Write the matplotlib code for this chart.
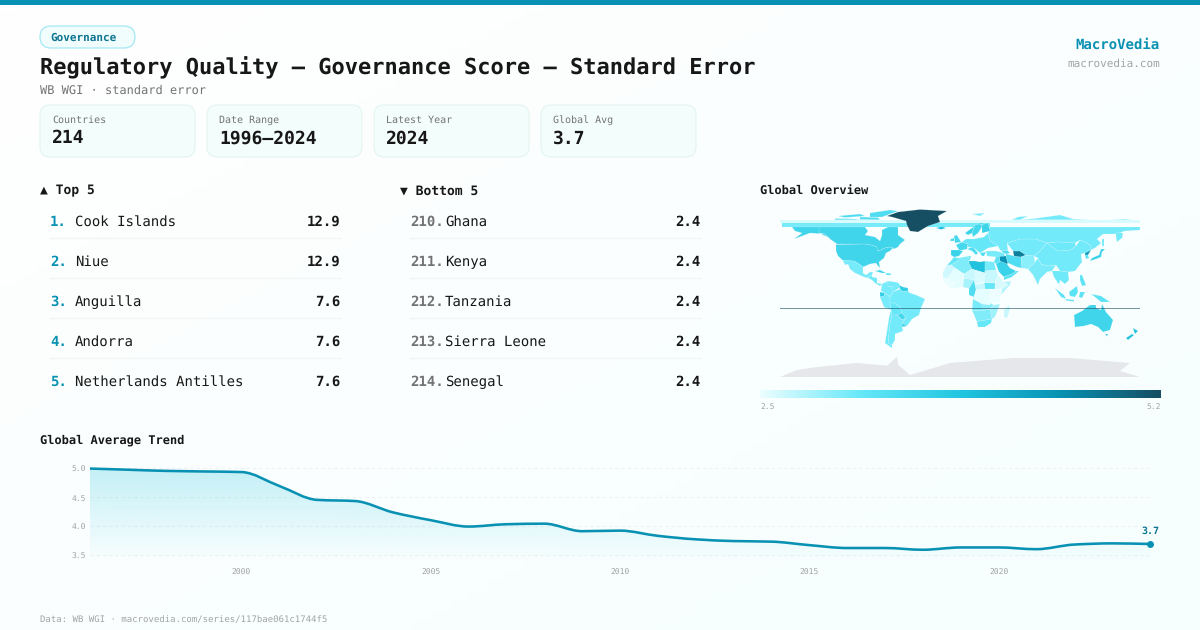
import numpy as np
import matplotlib
matplotlib.use("Agg")
import matplotlib.pyplot as plt
from matplotlib.colors import LinearSegmentedColormap, Normalize, to_rgb
from matplotlib.patches import FancyBboxPatch, PathPatch, Polygon
from matplotlib.path import Path
from matplotlib.transforms import ScaledTranslation

plt.rcParams['font.family'] = ['DejaVu Sans Mono', 'DejaVu Sans']
plt.rcParams['text.hinting'] = 'no_hinting'
plt.rcParams['text.hinting_factor'] = 1

# --- data ---
card_labels = ["Countries", "Date Range", "Latest Year", "Global Avg"]
card_values = ["214", "1996–2024", "2024", "3.7"]

top_ranks = ["1.", "2.", "3.", "4.", "5."]
top_names = ["Cook Islands", "Niue", "Anguilla", "Andorra", "Netherlands Antilles"]
top_values = [12.9, 12.9, 7.6, 7.6, 7.6]
bottom_ranks = ["210.", "211.", "212.", "213.", "214."]
bottom_names = ["Ghana", "Kenya", "Tanzania", "Sierra Leone", "Senegal"]
bottom_values = [2.4, 2.4, 2.4, 2.4, 2.4]

years = [1996, 1997, 1998, 1999, 2000, 2001, 2002, 2003, 2004, 2005,
         2006, 2007, 2008, 2009, 2010, 2011, 2012, 2013, 2014, 2015,
         2016, 2017, 2018, 2019, 2020, 2021, 2022, 2023, 2024]
global_avg = [4.99, 4.97, 4.95, 4.94, 4.93, 4.69, 4.45, 4.43, 4.235, 4.10,
              3.99, 4.03, 4.04, 3.91, 3.92, 3.83, 3.77, 3.74, 3.73, 3.67,
              3.62, 3.62, 3.59, 3.63, 3.63, 3.60, 3.68, 3.70, 3.69]
trend_yticks = [3.5, 4.0, 4.5, 5.0]
trend_xticks = [2000, 2005, 2010, 2015, 2020]

scale_min, scale_max = 2.5, 5.2

# rough country outlines, lon/lat
region_shapes = {
    "Canada": [(-141,66),(-95,66),(-92,62),(-95,58),(-85,56),(-80,52),(-78,58),(-78,63),(-72,66),(-62,66),(-62,58),(-55,53),(-60,49),(-62,46),(-66,44),(-67,45),(-70,46),(-75,45),(-79,43),(-83,42),(-83,46),(-89,48),(-95,49),(-123,49),(-130,54),(-135,59),(-141,60)],
    "Banks": [(-125,74.5),(-105,74),(-100,73.2),(-125,73.2)],
    "Devon": [(-100,76),(-82,75.5),(-80,73.2),(-100,73.5)],
    "Queen Elizabeth": [(-122,77),(-100,79),(-95,77),(-115,75.5)],
    "Ellesmere": [(-90,80),(-70,83),(-62,82),(-78,76),(-90,76)],
    "USA": [(-124,48.5),(-95,49),(-89,48),(-83,46),(-82.5,42),(-79,43),(-75,45),(-70,46),(-67,45),(-70,42),(-74,40),(-76,35),(-81,31),(-80,25),(-82,27),(-84,30),(-90,29),(-97,26),(-101,29),(-106,32),(-117,32.5),(-122,37),(-124,42)],
    "Alaska": [(-168,66),(-141,66),(-141,60),(-130,55),(-135,59),(-150,60),(-158,57),(-166,54),(-158,60),(-165,62)],
    "Mexico": [(-117,32.5),(-106,32),(-101,29),(-97,26),(-97,20),(-94,18),(-90,21),(-87,21),(-88,18),(-92,15),(-96,16),(-105,20),(-110,24),(-112,29),(-115,28)],
    "Central America": [(-92,15),(-88,18),(-88,16),(-83,15),(-83,10),(-78,9),(-80,7),(-85,10),(-88,13)],
    "Cuba": [(-85,22),(-80,23),(-74,20),(-78,20)],
    "Hispaniola": [(-74,20),(-69,19.5),(-69,18),(-74,18)],
    "Colombia": [(-78,9),(-72,12),(-72,7),(-67,6),(-67,1),(-70,-4),(-75,0),(-79,2)],
    "Venezuela": [(-72,12),(-62,10.5),(-60,8),(-61,5),(-67,1),(-67,6),(-72,7)],
    "Guyana": [(-61,8),(-57,6),(-52,5),(-52,2),(-58,1.5),(-60,4)],
    "Ecuador": [(-80,1),(-75,0),(-76,-3),(-80,-4)],
    "Peru": [(-80,-4),(-76,-3),(-75,0),(-70,-4),(-70,-10),(-69,-17),(-76,-14)],
    "Brazil": [(-70,-4),(-67,1),(-60,4),(-58,1.5),(-52,2),(-50,0),(-44,-2),(-35,-6),(-39,-15),(-41,-22),(-48,-26),(-53,-33),(-58,-30),(-54,-25),(-58,-20),(-60,-14),(-66,-10),(-70,-10)],
    "Bolivia": [(-70,-10),(-66,-10),(-60,-14),(-58,-20),(-63,-22),(-68,-22),(-69,-17)],
    "Paraguay": [(-63,-22),(-58,-20),(-54,-25),(-58,-27)],
    "Uruguay": [(-58,-30),(-53,-33),(-58,-34)],
    "Argentina": [(-68,-22),(-63,-22),(-58,-27),(-54,-25),(-58,-30),(-58,-34),(-57,-38),(-65,-41),(-65,-47),(-68,-52),(-72,-50),(-71,-40),(-70,-30)],
    "Chile": [(-69,-17),(-68,-22),(-70,-30),(-71,-40),(-72,-50),(-68,-52),(-68,-55),(-75,-50),(-73,-38),(-71,-25)],
    "Morocco": [(-6,36),(-2,35),(-2,32),(-9,28),(-13,28),(-10,31)],
    "Algeria": [(-2,35),(9,37),(9,30),(12,24),(4,19),(-5,25),(-9,28),(-2,32)],
    "Tunisia": [(9,37),(11,37),(10,33),(9,32),(9,30)],
    "Libya": [(9,32),(15,32),(20,31),(25,32),(25,20),(15,23),(12,24),(9,30)],
    "Egypt": [(25,32),(34,31),(36,23),(25,22),(25,20)],
    "Mauritania": [(-17,21),(-13,28),(-9,28),(-5,25),(-12,15),(-17,15)],
    "Mali": [(-12,15),(-5,25),(4,19),(4,15),(-5,10),(-11,12)],
    "West Coast": [(-17,15),(-12,15),(-11,12),(-5,10),(-8,4.5),(-13,8),(-17,12)],
    "Ghana Benin": [(-5,10),(4,15),(3,6),(1,6),(-8,4.5)],
    "Nigeria": [(3,6),(4,15),(14,13),(9,4.5)],
    "Niger": [(4,15),(4,19),(12,24),(15,23),(15,14),(14,13)],
    "Chad": [(15,23),(25,20),(24,10),(22,11),(15,8),(14,13),(15,14)],
    "Sudan": [(25,22),(36,23),(38,18),(35,10),(24,10),(25,20)],
    "South Sudan": [(24,10),(35,10),(35,4),(25,4)],
    "CAR": [(15,8),(24,10),(25,4),(16,3)],
    "Ethiopia": [(35,10),(38,18),(43,12),(48,8),(42,4),(35,4)],
    "Somalia": [(42,4),(48,8),(44,11),(51,12),(50,8),(41,-2)],
    "Cameroon Gabon": [(9,4.5),(14,13),(15,8),(16,3),(14,-4),(9,-2)],
    "DRC": [(16,3),(25,4),(31,3),(29,-4),(30,-12),(22,-11),(13,-6),(14,-4)],
    "East Africa": [(31,3),(35,4),(41,4),(41,-2),(39,-10),(30,-10),(29,-4)],
    "Angola": [(13,-6),(22,-11),(22,-18),(12,-17)],
    "Zambia": [(22,-11),(30,-12),(30,-10),(34,-12),(30,-16),(22,-18)],
    "Mozambique": [(34,-12),(40,-11),(35,-24),(32,-26),(30,-16)],
    "Namibia": [(12,-17),(22,-18),(30,-16),(32,-26),(20,-28),(17,-29)],
    "South Africa": [(17,-29),(20,-28),(32,-26),(31,-30),(25,-34),(18,-34)],
    "Madagascar": [(49,-12),(50,-16),(47,-25),(44,-24),(44,-17)],
    "Saudi Arabia": [(36,29),(40,32),(47,29),(50,25),(56,22),(52,19),(44,16),(39,21)],
    "Yemen Oman": [(44,16),(52,19),(56,22),(59,22),(52,16),(44,13)],
    "Iraq": [(39,37),(46,37),(48,30),(47,29),(40,32)],
    "Iran": [(46,39),(54,37),(61,36),(62,25),(57,26),(48,30),(46,37)],
    "Turkmenistan": [(53,42),(60,42),(66,38),(61,36),(54,37)],
    "Turkey": [(26,42),(36,42),(44,40),(45,37),(36,36),(27,37)],
    "Syria Jordan": [(36,36),(39,37),(40,32),(36,29),(34,31)],
    "Caucasus": [(40,43),(48,42),(50,40),(46,39),(44,40)],
    "Afghanistan Pakistan": [(61,36),(66,38),(74,37),(75,31),(68,24),(62,25)],
    "India": [(68,24),(75,31),(78,35),(81,29),(88,27),(96,28),(92,22),(87,21),(80,14),(78,8),(73,18)],
    "Kazakhstan": [(47,50),(60,54),(76,54),(87,50),(80,42),(74,37),(66,38),(60,42),(53,42),(50,46)],
    "Russia": [(30,66),(180,66),(180,63),(165,62),(155,59),(143,59),(137,54),(141,50),(135,45),(131,43),(131,47),(127,50),(120,53),(115,50),(98,51),(87,50),(76,54),(60,54),(47,50),(48,42),(40,43),(38,47),(30,52),(28,60)],
    "Siberia North": [(60,73.2),(75,74.5),(100,78),(113,74),(130,73.2)],
    "Chukotka": [(150,73.2),(165,74),(172,73.2)],
    "Novaya Zemlya": [(52,73.2),(58,76),(68,77),(60,73.2)],
    "Kamchatka": [(156,61),(163,60),(162,55),(157,51),(156,56)],
    "Sakhalin": [(142,54),(143.5,54),(143.5,47),(142,47)],
    "China": [(74,37),(80,42),(87,50),(98,42),(110,43),(116,47),(120,53),(127,50),(131,47),(131,43),(125,40),(121,39),(122,31),(115,22),(108,21),(100,22),(96,28),(88,27),(81,29),(78,35)],
    "Mongolia": [(87,50),(98,51),(115,50),(116,47),(110,43),(98,42)],
    "North Korea": [(125,40),(131,43),(128,38),(125,38)],
    "South Korea": [(125,38),(128,38),(129,35),(126,34)],
    "Japan": [(130,32),(136,34),(141,36),(142,41),(145,44),(141,44),(139,38),(132,35)],
    "SE Asia": [(92,22),(100,22),(108,21),(109,13),(105,9),(100,13),(99,8),(103,2),(98,10),(94,16)],
    "Philippines": [(120,18),(122,18),(126,8),(122,7),(120,13)],
    "Sumatra": [(95,5),(104,-2),(106,-6),(101,-4)],
    "Borneo": [(109,1),(117,7),(118,1),(115,-4),(110,-3)],
    "Java": [(106,-6),(114,-7),(114,-8.5),(106,-7.5)],
    "Sulawesi": [(120,1),(125,1),(122,-5),(119,-4)],
    "New Guinea": [(131,-1),(141,-3),(150,-9),(141,-9),(135,-4)],
    "Australia": [(114,-22),(122,-18),(130,-12),(136,-12),(136,-15),(141,-17),(142,-11),(146,-19),(153,-27),(150,-37),(143,-39),(138,-34),(131,-31),(124,-33),(115,-34)],
    "Tasmania": [(145,-41),(148,-41),(147,-43.5)],
    "NZ North": [(173,-35),(178,-38),(175,-41),(174,-38)],
    "NZ South": [(172,-41),(174,-42),(168,-47),(166,-45)],
    "UK": [(-5,50),(1,51),(-2,56),(-3,58),(-6,57)],
    "Ireland": [(-10,52),(-6,52),(-6,55),(-9,54)],
    "Iceland": [(-24,65),(-18,66.5),(-14,65),(-19,63.5)],
    "France": [(-4,48),(2,51),(8,49),(7,44),(3,43),(-1,43)],
    "Spain": [(-9,43),(-1,43),(3,42),(-1,37),(-6,36),(-9,38)],
    "Central Europe": [(2,51),(6,54),(14,54),(24,56),(28,60),(30,52),(38,47),(28,45),(20,40),(14,45),(8,46),(8,49)],
    "Greece": [(20,40),(26,41),(24,37),(22,37)],
    "Italy": [(7,44),(13,46),(18,40),(16,38),(12,42)],
    "Norway": [(5,60),(8,58),(12,60),(15,68),(28,70),(20,70),(12,65)],
    "Sweden": [(12,60),(13,56),(18,60),(22,66),(20,69),(15,68)],
    "Finland": [(22,60),(30,62),(28,70),(22,68),(22,66)],
    "Svalbard": [(12,79),(25,80),(20,77)],
    "Greenland": [(-73,77),(-62,81),(-40,83.5),(-13,82),(-22,77),(-20,71),(-32,67),(-42,61),(-50,62),(-53,68),(-54,72),(-68,76)],
}
region_values = {
    "Canada": 3.55, "Banks": 3.4, "Devon": 3.4, "Queen Elizabeth": 3.4, "Ellesmere": 3.4, "USA": 3.55, "Alaska": 3.55,
    "Mexico": 3.1, "Central America": 3.15, "Cuba": 3.6, "Hispaniola": 3.3,
    "Colombia": 3.1, "Venezuela": 3.1, "Guyana": 3.7, "Ecuador": 3.7, "Peru": 3.1,
    "Brazil": 3.12, "Bolivia": 3.2, "Paraguay": 3.5, "Uruguay": 3.6, "Argentina": 3.12, "Chile": 3.15,
    "Morocco": 3.2, "Algeria": 3.05, "Tunisia": 3.2, "Libya": 3.9, "Egypt": 3.1,
    "Mauritania": 2.65, "Mali": 2.55, "West Coast": 2.5, "Ghana Benin": 2.55, "Nigeria": 2.85,
    "Niger": 2.7, "Chad": 2.6, "Sudan": 2.7, "South Sudan": 3.2, "CAR": 2.7, "Ethiopia": 2.6,
    "Somalia": 2.8, "Cameroon Gabon": 3.4, "DRC": 2.55, "East Africa": 2.5,
    "Angola": 3.1, "Zambia": 3.0, "Mozambique": 2.9, "Namibia": 3.05, "South Africa": 3.2, "Madagascar": 2.7,
    "Saudi Arabia": 3.6, "Yemen Oman": 3.3, "Iraq": 4.5, "Iran": 3.4, "Turkmenistan": 4.7, "Caucasus": 3.4,
    "Turkey": 3.1, "Syria Jordan": 3.3, "Afghanistan Pakistan": 3.0, "India": 3.08, "Kazakhstan": 3.12,
    "Russia": 3.12, "Siberia North": 3.12, "Chukotka": 3.12, "Novaya Zemlya": 3.12, "Kamchatka": 3.12, "Sakhalin": 3.12,
    "China": 3.12, "Mongolia": 3.15, "North Korea": 4.4, "South Korea": 3.3, "Japan": 3.6,
    "SE Asia": 3.15, "Philippines": 3.3, "Sumatra": 3.3, "Borneo": 3.3, "Java": 3.3, "Sulawesi": 3.3,
    "New Guinea": 3.3, "Australia": 3.55, "Tasmania": 3.55, "NZ North": 3.9, "NZ South": 3.9,
    "UK": 3.5, "Ireland": 3.5, "Iceland": 3.9, "France": 3.5, "Spain": 3.6, "Central Europe": 3.2, "Greece": 3.4,
    "Italy": 3.4, "Norway": 3.6, "Sweden": 3.5, "Finland": 3.6, "Svalbard": 3.1, "Greenland": 5.2,
}
antarctica = [(-180,-84),(-163,-77),(-143,-74),(-103,-70),(-73,-72.7),(-63,-63.7),(-61.7,-72),(-50,-82),(-23,-74),(-10,-70),(53,-65),(110,-65),(170,-70),(160,-78),(180,-84)]
# artefact bands of the source map: lat and lon ranges and their value
band_lats = [(69.9, 73.2), (66.2, 69.9)]
band_lons = [(-180, 180), (-178, 30)]
band_values = [2.6, 3.1]
seam_lat = -15

# --- helpers ---
TEAL = "#0891b2"
DARK = "#171717"
GRAY = "#737373"
cmap = LinearSegmentedColormap.from_list("cy", ["#ecfeff", "#67e8f9", "#22c6e0", TEAL, "#164e63"])
norm = Normalize(scale_min, scale_max)

fig = plt.figure(figsize=(12, 6.3), dpi=100)
bg = fig.add_axes([0, 0, 1, 1])
bg.axis("off")
grad = np.linspace(0, 1, 64)[:, None] * np.ones((64, 64)) * 0.5 + np.linspace(0, 1, 64)[None, :] * 0.5
bg_cmap = LinearSegmentedColormap.from_list("bg", ["#ffffff", "#f6fefe"])
bg.imshow(grad, extent=(0, 1200, 630, 0), cmap=bg_cmap, aspect="auto", zorder=0)
bg.set_xlim(0, 1200)
bg.set_ylim(630, 0)


def put(x, y, s, px, color=DARK, weight="normal", ha="left"):
    # y is the middle of the line, place by baseline so rows do not jitter
    return bg.text(x, y + px * 0.36, s, fontsize=px * 0.72, color=color, fontweight=weight, ha=ha,
                   va="baseline", zorder=5)


def rbox(x0, y0, x1, y1, r, face, edge):
    p = FancyBboxPatch((x0 + r, y0 + r), x1 - x0 - 2 * r, y1 - y0 - 2 * r,
                       boxstyle=f"round,pad={r},rounding_size={r}",
                       fc=face, ec=edge, lw=0.9, zorder=2)
    bg.add_patch(p)


def px_axes(x0, y0, x1, y1):
    ax = fig.add_axes([x0 / 1200, 1 - y1 / 630, (x1 - x0) / 1200, (y1 - y0) / 630])
    ax.patch.set_alpha(0)
    return ax


# --- header ---
bg.fill_between([0, 1200], 0, 5, color=TEAL, lw=0, zorder=3)
rbox(40, 26, 135, 48, 11, "#f0fdfc", "#a5e8f5")
put(50, 37, "Governance", 11, "#0e7490", "bold")
put(40, 66.5, "Regulatory Quality — Governance Score — Standard Error", 22, DARK, "bold")
put(40, 90, "WB WGI · standard error", 12, GRAY)
put(1160, 43.5, "MacroVedia", 14, TEAL, "bold", ha="right")
put(1160, 62.5, "macrovedia.com", 11, "#a3a3a3", ha="right")

for i, (lab, val) in enumerate(zip(card_labels, card_values)):
    x0 = 40 + i * 167
    rbox(x0, 105, x0 + 155, 157, 10, "#f3fdfb", "#e5f5f3")
    put(x0 + 12, 119.5, lab, 10, GRAY)
    put(x0 + 12, 137, val, 18, DARK, "bold")

# --- rankings ---
put(40, 189.5, "▲ Top 5", 13, DARK, "bold")
put(400, 189.5, "▼ Bottom 5", 13, DARK, "bold")
for i in range(5):
    y = 221 + i * 40
    put(50, y, top_ranks[i], 14, TEAL, "bold")
    put(75, y, top_names[i], 14)
    put(340, y, f"{top_values[i]:.1f}", 14, DARK, "bold", ha="right")
    put(410, y, bottom_ranks[i], 14, GRAY, "bold")
    put(445, y, bottom_names[i], 14)
    put(700, y, f"{bottom_values[i]:.1f}", 14, DARK, "bold", ha="right")
    if i < 4:
        bg.plot([50, 340], [y + 17, y + 17], color="#f2f4f4", lw=1, zorder=2)
        bg.plot([410, 700], [y + 17, y + 17], color="#f2f4f4", lw=1, zorder=2)

# --- map ---
put(760, 189.5, "Global Overview", 12, DARK, "bold")
mp = px_axes(780, 208, 1140, 378)
mp.set_xlim(-180, 180)
mp.set_ylim(-85, 85)
mp.axis("off")
for (lo, hi), lons, v in zip(band_lats, band_lons, band_values):
    mp.fill_between(lons, lo, hi, color=cmap(norm(v)), lw=0, zorder=1)
for name, pts in region_shapes.items():
    mp.add_patch(Polygon(pts, closed=True, fc=cmap(norm(region_values[name])), ec=(1, 1, 1, 0.35),
                         lw=0.3, zorder=3 if name == "Greenland" else 2))
mp.add_patch(Polygon(antarctica, closed=True, fc="#e5e7eb", ec="none", zorder=2))
mp.plot([-180, 180], [seam_lat, seam_lat], color="#164e63", lw=0.7, alpha=0.6, zorder=4)

cb = px_axes(760, 390, 1161, 398)
cb.imshow(np.linspace(0, 1, 256)[None, :], cmap=cmap, aspect="auto")
cb.axis("off")
put(760, 407.5, f"{scale_min}", 8, "#a3a3a3")
put(1161, 407.5, f"{scale_max}", 8, "#a3a3a3", ha="right")

# --- trend ---
put(40, 439.5, "Global Average Trend", 12, DARK, "bold")
tr = px_axes(90, 462, 1150, 562)
ybase = 3.379

# monotone curve through the yearly values
xs = np.array(years, float)
ys = np.array(global_avg, float)
secants = np.diff(ys) / np.diff(xs)
slopes = np.zeros_like(ys)
slopes[0], slopes[-1] = secants[0], secants[-1]
for j in range(1, len(ys) - 1):
    a, b = secants[j - 1], secants[j]
    slopes[j] = 0 if a * b <= 0 else 2 * a * b / (a + b)
verts = [(xs[0], ys[0])]
codes = [Path.MOVETO]
for j in range(len(xs) - 1):
    d = (xs[j + 1] - xs[j]) / 3
    verts += [(xs[j] + d, ys[j] + slopes[j] * d), (xs[j + 1] - d, ys[j + 1] - slopes[j + 1] * d), (xs[j + 1], ys[j + 1])]
    codes += [Path.CURVE4] * 3
line_path = Path(verts, codes)
area_path = Path(verts + [(xs[-1], ybase), (xs[0], ybase), (xs[0], ys[0])],
                 codes + [Path.LINETO, Path.LINETO, Path.CLOSEPOLY])

rgba = np.ones((128, 2, 4))
rgba[..., :3] = to_rgb("#22c6e0")
rgba[..., 3] = np.linspace(0.26, 0.0, 128)[:, None]
im = tr.imshow(rgba, extent=(xs[0], xs[-1], ybase, 5.0), origin="upper", aspect="auto", zorder=1)
im.set_clip_path(PathPatch(area_path, transform=tr.transData))
tr.set_xlim(years[0], years[-1])
tr.set_ylim(ybase, 5.103)

tr.add_patch(PathPatch(line_path, fc="none", ec=TEAL, lw=1.85, capstyle="round", zorder=3))
tr.plot(years[-1], global_avg[-1], "o", color=TEAL, ms=5, mew=0, clip_on=False, zorder=4)
tr.annotate(f"{global_avg[-1]:.1f}", (years[-1], global_avg[-1]), xytext=(0, 9), textcoords="offset points",
            ha="center", va="center", fontsize=7.2, fontweight="bold", color="#0e7490",
            annotation_clip=False)

for s in tr.spines.values():
    s.set_visible(False)
tr.set_yticks(trend_yticks, [f"{v:.1f}" for v in trend_yticks])
tr.set_xticks(trend_xticks, [str(v) for v in trend_xticks])
tr.tick_params(axis="y", length=0, labelsize=5.8, labelcolor="#a3a3a3", pad=3)
tr.tick_params(axis="x", length=0, labelsize=5.8, labelcolor="#a3a3a3", pad=5)
for lbl in tr.get_yticklabels():
    lbl.set_transform(lbl.get_transform() + ScaledTranslation(0, -0.01, fig.dpi_scale_trans))
tr.grid(axis="y", color="#eef1f1", lw=0.75, ls=(0, (3, 3)))
tr.set_axisbelow(True)

put(40, 619, "Data: WB WGI · macrovedia.com/series/117bae061c1744f5", 9, "#a3a3a3")

fig.savefig("out.png", dpi=100)
